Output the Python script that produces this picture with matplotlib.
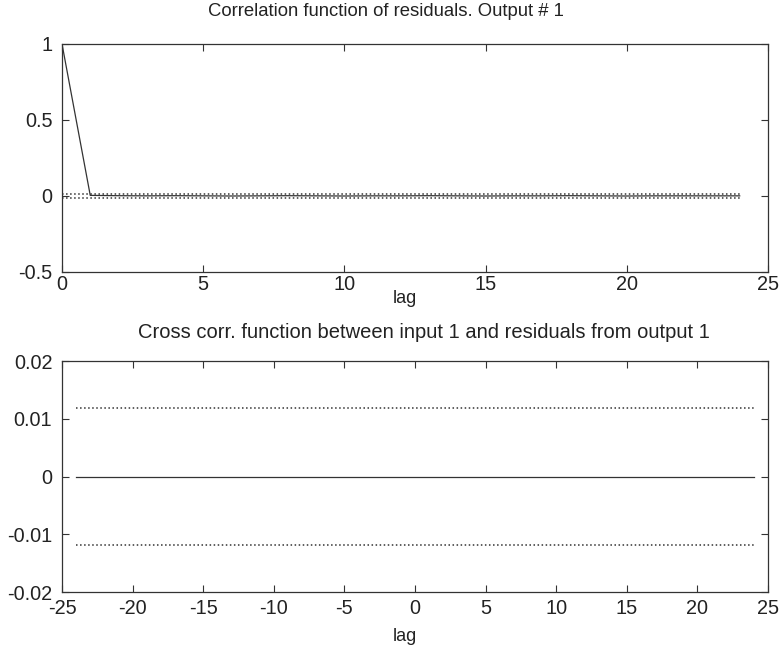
import numpy as np
import matplotlib.pyplot as plt

plt.rcParams['font.family'] = ['Liberation Sans', 'DejaVu Sans']
plt.rcParams['axes.unicode_minus'] = False

# autocorrelation of residuals, lags 0..24
acf_lags = list(range(0, 25))
acf_vals = [1.0, 0.004, 0.002, 0.001, 0.002, 0.001, 0.0, 0.001, 0.002, 0.001,
            0.0, 0.001, 0.001, 0.002, 0.001, 0.0, 0.001, 0.001, 0.002, 0.001,
            0.0, 0.001, 0.001, 0.001, 0.001]
acf_conf = 0.0118

# cross correlation input 1 -> residuals, lags -24..24
ccf_lags = list(range(-24, 25))
ccf_vals = [0.0] * 49
ccf_conf = 0.0118

W, H = 782, 647
fig = plt.figure(figsize=(W / 100, H / 100), dpi=100)
ax1 = fig.add_axes([0.0793, 0.5796, 0.9027, 0.3524])
ax2 = fig.add_axes([0.0793, 0.085, 0.9027, 0.357])

col = '#333333'

ax1.plot(acf_lags, acf_vals, color=col, lw=0.9)
ax1.plot([acf_lags[0], acf_lags[-1]], [acf_conf, acf_conf], ':', color=col, lw=1.1)
ax1.plot([acf_lags[0], acf_lags[-1]], [-acf_conf, -acf_conf], ':', color=col, lw=1.1)
ax1.set_xlim(0, 25)
ax1.set_ylim(-0.5, 1)
ax1.set_xticks([0, 5, 10, 15, 20, 25])
ax1.set_yticks([-0.5, 0, 0.5, 1])
ax1.set_yticklabels(['-0.5', '0', '0.5', '1'])
ax1.set_xlabel('lag', fontsize=13)
ax1.xaxis.set_label_coords((405 - 62) / 706, -0.08)

ax2.plot(ccf_lags, ccf_vals, color=col, lw=0.9)
ax2.plot([ccf_lags[0], ccf_lags[-1]], [ccf_conf, ccf_conf], ':', color=col, lw=1.1)
ax2.plot([ccf_lags[0], ccf_lags[-1]], [-ccf_conf, -ccf_conf], ':', color=col, lw=1.1)
ax2.set_xlim(-25, 25)
ax2.set_ylim(-0.02, 0.02)
ax2.set_xticks(np.arange(-25, 26, 5))
ax2.set_yticks([-0.02, -0.01, 0, 0.01, 0.02])
ax2.set_yticklabels(['-0.02', '-0.01', '0', '0.01', '0.02'])
ax2.set_xlabel('lag', fontsize=13)
ax2.xaxis.set_label_coords((405 - 62) / 706, -0.155)

fig.text(386 / W, 1 - 12 / H, 'Correlation function of residuals. Output # 1',
         fontsize=13.3, ha='center', va='center', color='#222222')
fig.text(424 / W, 1 - 332 / H, 'Cross corr. function between input 1 and residuals from output 1',
         fontsize=14.5, ha='center', va='center', color='#222222')

for ax in (ax1, ax2):
    ax.tick_params(direction='in', top=True, right=True, labelsize=14.3,
                   length=5, width=0.8, colors=col, labelcolor='#222222')
    ax.tick_params(axis='y', pad=7)
    ax.xaxis.label.set_color('#222222')
    for s in ax.spines.values():
        s.set_color(col)
        s.set_linewidth(0.9)
ax1.tick_params(axis='x', pad=2)
ax2.tick_params(axis='x', pad=5)

fig.savefig('out.png', dpi=100)
